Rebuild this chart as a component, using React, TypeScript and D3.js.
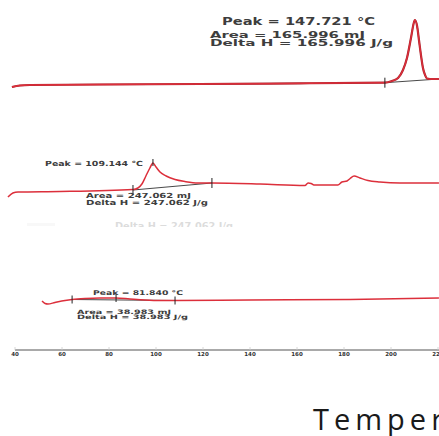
import React from "react";
import * as d3 from "d3";

// x axis (temperature, °C)
const axisTicks = [40, 60, 80, 100, 120, 140, 160, 180, 200, 220];

// Top curve (heat flow, arbitrary units)
const topT = [38.7, 42.1, 46.4, 76.2, 118.7, 161.3, 197.4, 200.4, 203.0, 205.1, 206.8, 208.5, 209.8, 210.2, 211.1, 211.9, 212.8, 213.6, 214.5, 215.3, 216.6, 220.4];
const topHF = [-0.2, 0.1, 0.2, 0.3, 0.4, 0.54, 0.66, 1.0, 1.6, 3.2, 5.6, 9.6, 12.8, 13.2, 12.0, 9.2, 6.0, 3.6, 2.2, 1.5, 1.4, 1.4];
const topBaseT = [197.4, 220.4];
const topBaseHF = [0.66, 1.4];
const topTickT = [197.4];

// Middle curve
const midT = [37.0, 39.1, 41.3, 59.1, 90.2, 92.3, 94.0, 95.7, 97.4, 98.7, 100.0, 101.7, 104.3, 108.1, 112.3, 117.9, 123.8, 144.3, 163.4, 164.7, 166.0, 167.2, 177.4, 179.1, 181.3, 182.6, 184.3, 186.8, 190.2, 195.3, 203.8, 220.4];
const midHF = [-1.4, -0.6, -0.4, -0.3, 0.1, 0.4, 1.2, 2.8, 4.4, 5.4, 4.6, 3.6, 2.8, 2.1, 1.7, 1.4, 1.4, 1.2, 0.9, 1.4, 1.3, 1.0, 1.0, 1.6, 1.8, 2.3, 2.8, 2.4, 1.9, 1.6, 1.4, 1.4];
const midBaseT = [90.2, 123.8];
const midBaseHF = [0.0, 1.4];
const midTickT = [90.2, 123.8];
const midPeakT = 98.7;
const midPeakHF = 5.4;

// Bottom curve
const botT = [51.5, 52.8, 54.0, 57.0, 61.3, 64.3, 69.8, 76.2, 83.0, 88.9, 95.3, 101.7, 108.1, 140.0, 182.6, 220.4];
const botHF = [0.0, -0.5, -0.6, -0.3, 0.1, 0.3, 0.5, 0.6, 0.6, 0.4, 0.2, 0.1, 0.1, 0.2, 0.3, 0.6];
const botBaseT = [64.3, 108.1];
const botBaseHF = [0.3, 0.1];
const botTickT = [64.3, 83.0, 108.1];

const topLabels = ["Peak = 147.721 °C", "Area = 165.996 mJ", "Delta H = 165.996 J/g"];
const midLabels = ["Peak = 109.144 °C", "Area = 247.062 mJ", "Delta H =  247.062 J/g"];
const botLabels = ["Peak = 81.840 °C", "Area = 38.983 mJ", "Delta H = 38.983 J/g"];
const axisTitle = "Temperature (°C)";

const W = 439;
const H = 436;

export default function App() {
  const x = d3.scaleLinear().domain([40, 220]).range([15, 438]);
  // per-panel heat flow scales
  const yTop = d3.scaleLinear().domain([0, 10]).range([86, 36]);
  const yMid = d3.scaleLinear().domain([0, 10]).range([190, 140]);
  const yBot = d3.scaleLinear().domain([0, 10]).range([301, 251]);

  const mk = (ys: d3.ScaleLinear<number, number>) =>
    d3
      .line<[number, number]>()
      .x((d) => x(d[0]))
      .y((d) => ys(d[1]))
      .curve(d3.curveMonotoneX);
  const straight = (ys: d3.ScaleLinear<number, number>) =>
    d3
      .line<[number, number]>()
      .x((d) => x(d[0]))
      .y((d) => ys(d[1]));

  const zip = (a: number[], b: number[]) => a.map((v, i) => [v, b[i]] as [number, number]);

  const red = "#dc2f3b";
  const txt = "#3d3d3d";
  const font = "DejaVu Sans, Verdana, sans-serif";

  const interp = (ts: number[], hs: number[], t: number) => {
    for (let i = 0; i < ts.length - 1; i++) {
      if (t >= ts[i] && t <= ts[i + 1]) {
        const f = (t - ts[i]) / (ts[i + 1] - ts[i]);
        return hs[i] + f * (hs[i + 1] - hs[i]);
      }
    }
    return hs[hs.length - 1];
  };

  const axisY = 350;

  return (
    <svg
      width={W}
      height={H}
      style={{ position: "absolute", left: 0, top: 0, background: "#fff" }}
    >
      <defs>
        <clipPath id="ghost">
          <rect x={0} y={221} width={W} height={6} />
        </clipPath>
      </defs>

      {/* Top panel */}
      <path d={straight(yTop)(zip(topBaseT, topBaseHF)) || ""} stroke="#333" strokeWidth={0.9} fill="none" />
      <path d={mk(yTop)(zip(topT, topHF)) || ""} stroke="#a8232c" strokeWidth={2.2} fill="none" />
      <path d={mk(yTop)(zip(topT, topHF)) || ""} stroke={red} strokeWidth={1.3} fill="none" />
      {topTickT.map((t, i) => (
        <line key={i} x1={x(t)} x2={x(t)} y1={yTop(interp(topBaseT, topBaseHF, t)) - 5} y2={yTop(interp(topBaseT, topBaseHF, t)) + 5} stroke="#222" strokeWidth={1} />
      ))}
      <text x={222} y={25} fontFamily={font} fontWeight="bold" fontSize={10} fill={txt} textLength={153} lengthAdjust="spacingAndGlyphs">{topLabels[0]}</text>
      <text x={210} y={37.5} fontFamily={font} fontWeight="bold" fontSize={8.5} fill={txt} textLength={155} lengthAdjust="spacingAndGlyphs">{topLabels[1]}</text>
      <text x={210} y={46} fontFamily={font} fontWeight="bold" fontSize={8.5} fill={txt} textLength={183} lengthAdjust="spacingAndGlyphs">{topLabels[2]}</text>

      {/* Middle panel */}
      <path d={straight(yMid)(zip(midBaseT, midBaseHF)) || ""} stroke="#333" strokeWidth={0.9} fill="none" />
      <path d={mk(yMid)(zip(midT, midHF)) || ""} stroke={red} strokeWidth={1.5} fill="none" />
      {midTickT.map((t, i) => (
        <line key={i} x1={x(t)} x2={x(t)} y1={yMid(interp(midBaseT, midBaseHF, t)) - 5} y2={yMid(interp(midBaseT, midBaseHF, t)) + 5} stroke="#222" strokeWidth={1} />
      ))}
      <line x1={x(midPeakT)} x2={x(midPeakT)} y1={yMid(midPeakHF) - 4} y2={yMid(midPeakHF) + 3} stroke="#222" strokeWidth={1} />
      <text x={45} y={166} fontFamily={font} fontWeight="bold" fontSize={7} fill={txt} textLength={98} lengthAdjust="spacingAndGlyphs">{midLabels[0]}</text>
      <text x={86} y={198} fontFamily={font} fontWeight="bold" fontSize={7} fill={txt} textLength={105} lengthAdjust="spacingAndGlyphs">{midLabels[1]}</text>
      <text x={86} y={205} fontFamily={font} fontWeight="bold" fontSize={7} fill={txt} textLength={122} lengthAdjust="spacingAndGlyphs">{midLabels[2]}</text>
      <g clipPath="url(#ghost)" opacity={0.2}>
        <text x={115} y={229} fontFamily={font} fontWeight="bold" fontSize={9} fill="#555" textLength={118} lengthAdjust="spacingAndGlyphs">{midLabels[2]}</text>
        <rect x={27} y={223} width={28} height={3} fill="#ddd" />
      </g>

      {/* Bottom panel */}
      <path d={straight(yBot)(zip(botBaseT, botBaseHF)) || ""} stroke="#333" strokeWidth={0.9} fill="none" />
      <path d={mk(yBot)(zip(botT, botHF)) || ""} stroke={red} strokeWidth={1.5} fill="none" />
      {botTickT.map((t, i) => (
        <line key={i} x1={x(t)} x2={x(t)} y1={yBot(interp(botT, botHF, t)) - 4} y2={yBot(interp(botT, botHF, t)) + 4} stroke="#222" strokeWidth={1} />
      ))}
      <text x={93} y={295} fontFamily={font} fontWeight="bold" fontSize={6.5} fill={txt} textLength={90} lengthAdjust="spacingAndGlyphs">{botLabels[0]}</text>
      <text x={77} y={313.5} fontFamily={font} fontWeight="bold" fontSize={6} fill={txt} textLength={94} lengthAdjust="spacingAndGlyphs">{botLabels[1]}</text>
      <text x={77} y={319} fontFamily={font} fontWeight="bold" fontSize={6} fill={txt} textLength={111} lengthAdjust="spacingAndGlyphs">{botLabels[2]}</text>

      {/* X axis */}
      <line x1={x(40)} x2={W} y1={axisY} y2={axisY} stroke="#555" strokeWidth={1} />
      {axisTicks.map((t) => (
        <g key={t}>
          <line x1={x(t)} x2={x(t)} y1={axisY - 3} y2={axisY} stroke="#ccc" strokeWidth={0.8} />
          <text x={x(t)} y={356} textAnchor="middle" fontFamily={font} fontWeight="bold" fontSize={5.5} fill="#333">
            {t}
          </text>
        </g>
      ))}
      <text x={313} y={430} fontFamily="Open Sans, sans-serif" fontSize={29} letterSpacing={5} fill="#1a1a1a">
        {axisTitle}
      </text>
    </svg>
  );
}
